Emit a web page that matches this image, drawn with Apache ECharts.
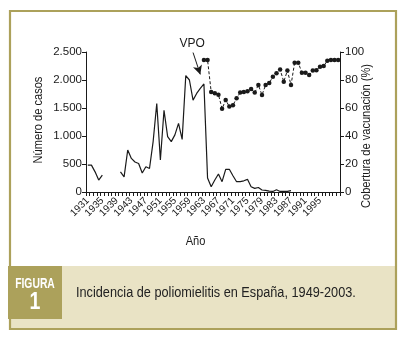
<!DOCTYPE html>
<html>
<head>
<meta charset="utf-8">
<script src="https://cdn.jsdelivr.net/npm/echarts@6/dist/echarts.min.js"></script>
<style>
html,body{margin:0;padding:0;background:#fff;}
#chart{width:405px;height:344px;}
</style>
</head>
<body>
<div id="chart"></div>
<script>
const years = ['1931','1932','1933','1934','1935','1936','1937','1938','1939','1940',
'1941','1942','1943','1944','1945','1946','1947','1948','1949','1950',
'1951','1952','1953','1954','1955','1956','1957','1958','1959','1960',
'1961','1962','1963','1964','1965','1966','1967','1968','1969','1970',
'1971','1972','1973','1974','1975','1976','1977','1978','1979','1980',
'1981','1982','1983','1984','1985','1986','1987','1988','1989','1990',
'1991','1992','1993','1994','1995','1996','1997','1998','1999','2000'];

const casos = [480,480,360,214,300,null,null,null,null,360,
270,750,600,535,510,340,450,420,900,1580,
570,1460,990,900,1020,1225,940,2080,2000,1640,
1760,1850,1930,250,95,214,321,184,405,405,
290,184,184,200,226,95,65,80,36,30,
15,10,40,10,10,10,25,null,null,null,
null,null,null,null,null,null,null,null,null,null];

const cobertura = [null,null,null,null,null,null,null,null,null,null,
null,null,null,null,null,null,null,null,null,null,
null,null,null,null,null,null,null,null,null,null,
null,null,94.3,94.3,71.5,70.5,69.5,59.5,65.7,61,
62,67,71,71.4,72,73.5,71,76.4,69.3,76.4,
77.8,82.4,84.8,87.5,78.8,86.7,76.4,92.4,92.4,85.2,
85.2,83.6,86.7,87,89.5,90,93.7,94.3,94.3,94.3];

const leftTicks = [0, 500, 1000, 1500, 2000, 2500];
const rightTicks = [0, 20, 40, 60, 80, 100];
const lastLabelYear = 1995;
const arrowFrom = ['1960', 2490];
const arrowTo = ['1962', 2100];

const FONT = "'Liberation Sans', Arial, sans-serif";
const INK = '#1a1a1a';
const OLIVE = '#aca15b';
const BAND = '#e9e3c5';
const NARROW = 0.82;

const chart = echarts.init(document.getElementById('chart'), null, {renderer: 'canvas'});

function fmtThousands(v) {
  return String(v).replace(/\B(?=(\d{3})+(?!\d))/g, '.');
}

chart.setOption({
  animation: false,
  backgroundColor: '#fff',
  textStyle: {fontFamily: FONT, color: INK},
  grid: {left: 86, right: 65, top: 52, bottom: 152, containLabel: false},
  xAxis: {
    type: 'category',
    data: years,
    boundaryGap: true,
    axisLine: {lineStyle: {color: INK, width: 1}},
    axisTick: {show: true, interval: 0, length: 4, lineStyle: {color: INK}},
    axisLabel: {
      interval: 0,
      showMinLabel: true,
      showMaxLabel: true,
      hideOverlap: false,
      formatter: function (v, i) { return (i % 4 === 0 && +v <= lastLabelYear) ? v : ''; },
      rotate: 45, fontSize: 10, color: INK, fontFamily: FONT, margin: 7
    },
    splitLine: {show: false}
  },
  yAxis: [{
    type: 'value',
    min: leftTicks[0], max: leftTicks[leftTicks.length - 1], interval: 500,
    axisLine: {show: true, lineStyle: {color: INK, width: 1}},
    axisTick: {show: true, length: 4, lineStyle: {color: INK}},
    axisLabel: {fontSize: 11.5, color: INK, fontFamily: FONT, margin: 4, formatter: fmtThousands},
    splitLine: {show: false}
  }, {
    type: 'value',
    position: 'right',
    min: rightTicks[0], max: rightTicks[rightTicks.length - 1], interval: 20,
    axisLine: {show: true, lineStyle: {color: INK, width: 1}},
    axisTick: {show: true, length: 4, lineStyle: {color: INK}},
    axisLabel: {fontSize: 11.5, color: INK, fontFamily: FONT, margin: 5},
    splitLine: {show: false}
  }],
  series: [{
    name: 'Número de casos',
    type: 'line',
    yAxisIndex: 0,
    data: casos,
    connectNulls: false,
    showSymbol: false,
    symbol: 'none',
    lineStyle: {color: INK, width: 1.2},
    markLine: {
      silent: true,
      symbol: ['none', 'arrow'],
      symbolSize: [7, 9],
      lineStyle: {color: INK, width: 1, type: 'solid'},
      label: {show: true, position: 'start', formatter: 'VPO', fontSize: 12, color: INK, fontFamily: FONT, distance: 3},
      data: [[{coord: arrowFrom}, {coord: arrowTo}]]
    },
    z: 3
  }, {
    name: 'Cobertura de vacunación (%)',
    type: 'line',
    yAxisIndex: 1,
    data: cobertura,
    connectNulls: false,
    symbol: 'circle',
    symbolSize: 4.5,
    showSymbol: true,
    showAllSymbol: true,
    itemStyle: {color: INK},
    lineStyle: {color: INK, width: 1, type: [3, 2]},
    z: 4
  }],
  graphic: [
    {type: 'rect', z: -1, shape: {x: 10, y: 266, width: 386, height: 63}, style: {fill: BAND}},
    {type: 'rect', z: 10, shape: {x: 10, y: 11, width: 386, height: 318}, style: {fill: null, stroke: OLIVE, lineWidth: 2.2}},
    {type: 'rect', z: 11, shape: {x: 8, y: 266, width: 54, height: 53}, style: {fill: OLIVE}},
    {type: 'text', z: 12, x: 35, y: 284, scaleX: 0.74, style: {text: 'FIGURA', fill: '#fff', font: 'bold 14px ' + FONT, textAlign: 'center', textVerticalAlign: 'middle'}},
    {type: 'text', z: 12, x: 35, y: 303, scaleX: 0.85, style: {text: '1', fill: '#fff', font: 'bold 23px ' + FONT, textAlign: 'center', textVerticalAlign: 'middle'}},
    {type: 'text', z: 12, x: 76, y: 293, scaleX: NARROW, style: {text: 'Incidencia de poliomielitis en España, 1949-2003.', fill: '#222', font: '15.5px ' + FONT, textAlign: 'left', textVerticalAlign: 'middle'}},
    {type: 'text', z: 12, x: 38, y: 120, rotation: Math.PI / 2, scaleX: NARROW, style: {text: 'Número de casos', fill: INK, font: '13.5px ' + FONT, textAlign: 'center', textVerticalAlign: 'middle'}},
    {type: 'text', z: 12, x: 366, y: 136, rotation: Math.PI / 2, scaleX: NARROW, style: {text: 'Cobertura de vacunación (%)', fill: INK, font: '13.5px ' + FONT, textAlign: 'center', textVerticalAlign: 'middle'}},
    {type: 'text', z: 12, x: 195.5, y: 241, scaleX: NARROW, style: {text: 'Año', fill: INK, font: '13.5px ' + FONT, textAlign: 'center', textVerticalAlign: 'middle'}}
  ]
});
</script>
</body>
</html>
